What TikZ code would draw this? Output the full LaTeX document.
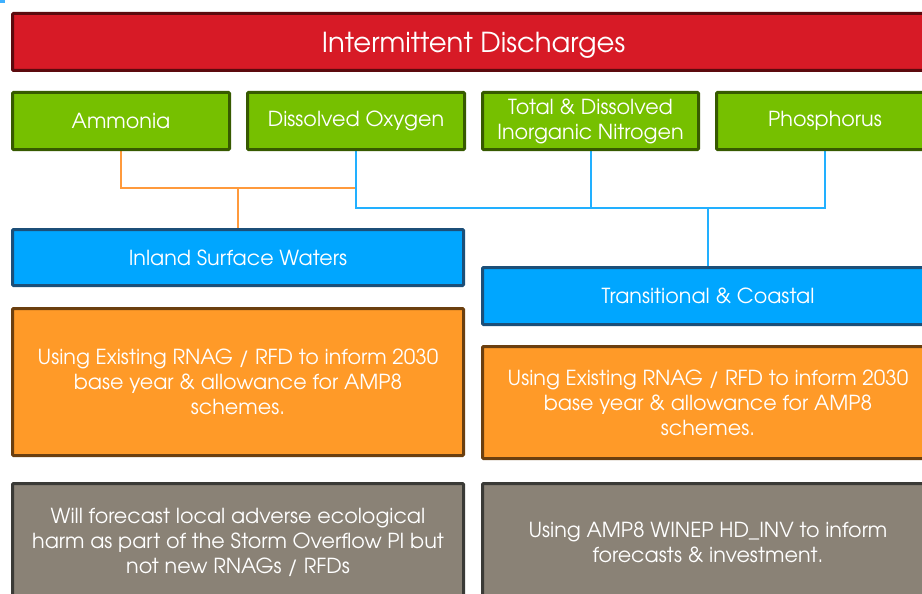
\documentclass[tikz,border=0pt]{standalone}
\usepackage{fontspec}
\setmainfont{TeX Gyre Adventor}
\usetikzlibrary{calc}
\pgfdeclarelayer{bg}
\pgfsetlayers{bg,main}

\definecolor{redfill}{HTML}{D71A26}
\definecolor{redline}{HTML}{5C0A0E}
\definecolor{greenfill}{HTML}{76C000}
\definecolor{greenline}{HTML}{375A00}
\definecolor{bluefill}{HTML}{00A6FF}
\definecolor{blueline}{HTML}{1C4F78}
\definecolor{orangefill}{HTML}{FF9A28}
\definecolor{orangeline}{HTML}{6B3F0F}
\definecolor{greyfill}{HTML}{8A8276}
\definecolor{greyline}{HTML}{3A3A36}
\definecolor{linkorange}{HTML}{FF9A3C}
\definecolor{linkblue}{HTML}{22B0FF}
\definecolor{markcyan}{HTML}{3FB0FF}

\tikzset{
  box/.style={draw, line width=3pt, text=white, align=center,
    inner sep=0pt, rounded corners=1pt, font=\fontsize{20.7}{25}\selectfont},
  titlebox/.style={box, fill=redfill, draw=redline, font=\fontsize{27.5}{30}\selectfont,
    text height=26pt, text depth=5.5pt},
  paramsbox/.style={box, fill=greenfill, draw=greenline, minimum height=57pt},
  waterbox/.style={box, fill=bluefill, draw=blueline,
    minimum width=451pt, minimum height=56pt},
  notebox/.style={box, fill=orangefill, draw=orangeline, minimum width=451pt},
  plainbox/.style={box, fill=greyfill, draw=greyline, minimum width=451pt, minimum height=117pt},
  orangelink/.style={draw=linkorange, line width=2pt},
  bluelink/.style={draw=linkblue, line width=2pt},
}

\begin{document}
\begin{tikzpicture}[x=1pt, y=-1pt]
\useasboundingbox (0,0) rectangle (922,594);
\clip (0,0) rectangle (922,594);

\fill[markcyan] (0,0) rectangle (5,3);

% heading
\node[titlebox, minimum width=922pt, minimum height=57pt] (title) at (473.5,42) {Intermittent Discharges};

% determinands
\node[paramsbox, minimum width=217pt] (amm)  at (121,121)   {Ammonia};
\node[paramsbox, minimum width=217pt] (do)   at (356,121)   {Dissolved Oxygen};
\node[paramsbox, minimum width=216pt] (tdin) at (590.5,121) {Total \& Dissolved\\Inorganic Nitrogen};
\node[paramsbox, minimum width=217pt] (phos) at (825,121)   {Phosphorus};

% water bodies
\node[waterbox] (inland) at (238,257.5) {Inland Surface Waters};
\node[waterbox, minimum height=57pt] (trans) at (708,296) {Transitional \& Coastal};

% approach
\node[notebox, minimum height=147pt] (rnagL) at (238,382)
  {Using Existing RNAG / RFD to inform 2030\\base year \& allowance for AMP8\\schemes.};
\node[notebox, minimum height=112pt] (rnagR) at (708,402.5)
  {Using Existing RNAG / RFD to inform 2030\\base year \& allowance for AMP8\\schemes.};

% forecasts
\node[plainbox] (fcL) at (238,542)
  {Will forecast local adverse ecological\\harm as part of the Storm Overflow PI but\\not new RNAGs / RFDs};
\node[plainbox] (fcR) at (708,542)
  {Using AMP8 WINEP HD\_INV to inform\\forecasts \& investment.};

% connectors
\coordinate (obar) at (356,188);
\coordinate (bbar) at (708,208);
\begin{pgfonlayer}{bg}
  \draw[orangelink] (amm.south) |- (obar);
  \draw[orangelink] (inland.north) -- (inland.north |- obar);
  \draw[bluelink] (do.south) |- (phos.south |- bbar) -- (phos.south);
  \draw[bluelink] (tdin.south) -- (tdin.south |- bbar);
  \draw[bluelink] (trans.north) -- (trans.north |- bbar);
\end{pgfonlayer}
\end{tikzpicture}
\end{document}
